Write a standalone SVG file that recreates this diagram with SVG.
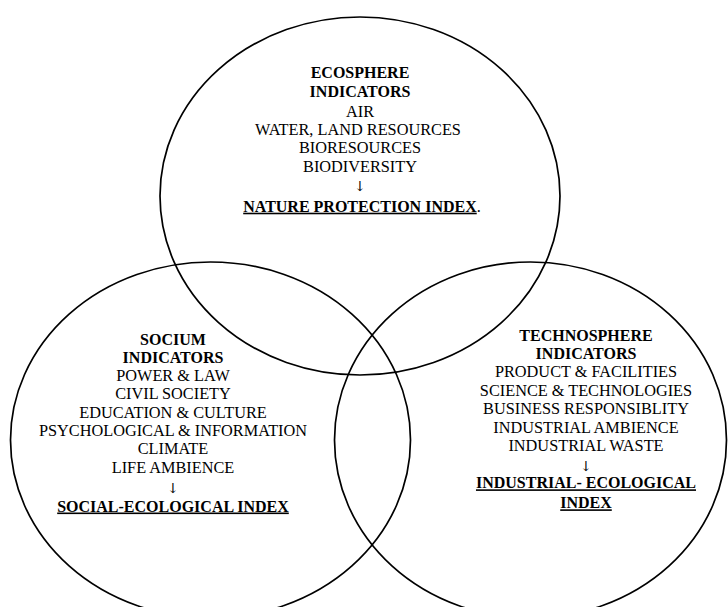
<svg xmlns="http://www.w3.org/2000/svg" width="728" height="607" viewBox="0 0 728 607">
  <style>
    .ring { fill: none; stroke: #000; stroke-width: 1.7; }
    text { font-family: "Liberation Serif", "Times New Roman", "DejaVu Serif", serif; font-size: 16.3px; fill: #000; text-anchor: middle; }
    .b { font-weight: bold; font-size: 16px; }
    .u { text-decoration: underline; }
    .arr { font-family: "DejaVu Serif", "DejaVu Sans", serif; font-size: 14px; fill: #000; }
  </style>
  <rect width="728" height="607" fill="#fff"/>
  <g id="ecosphere">
    <ellipse class="ring" cx="360" cy="196" rx="200" ry="179"/>
    <text class="b" x="360" y="78">ECOSPHERE</text>
    <text class="b" x="360" y="96.7">INDICATORS</text>
    <text x="360" y="116.5">AIR</text>
    <text x="358" y="135">WATER, LAND RESOURCES</text>
    <text x="360" y="153.3">BIORESOURCES</text>
    <text x="360" y="171.7">BIODIVERSITY</text>
    <text class="arr" x="360" y="191">↓</text>
    <text x="362" y="211.7"><tspan class="b u">NATURE PROTECTION INDEX</tspan>.</text>
  </g>
  <g id="socium">
    <ellipse class="ring" cx="210.5" cy="440" rx="200" ry="178"/>
    <text class="b" x="173" y="345">SOCIUM</text>
    <text class="b" x="173" y="363.3">INDICATORS</text>
    <text x="173" y="381">POWER &amp; LAW</text>
    <text x="173" y="399.3">CIVIL SOCIETY</text>
    <text x="173" y="418">EDUCATION &amp; CULTURE</text>
    <text x="173" y="436">PSYCHOLOGICAL &amp; INFORMATION</text>
    <text x="173" y="454">CLIMATE</text>
    <text x="173" y="472.5">LIFE AMBIENCE</text>
    <text class="arr" x="173" y="492.5">↓</text>
    <text class="b u" x="173" y="511.5">SOCIAL-ECOLOGICAL INDEX</text>
  </g>
  <g id="technosphere">
    <ellipse class="ring" cx="530.5" cy="440" rx="196" ry="178"/>
    <text class="b" x="586" y="340.7">TECHNOSPHERE</text>
    <text class="b" x="586" y="358.5">INDICATORS</text>
    <text x="586" y="377.3">PRODUCT &amp; FACILITIES</text>
    <text x="586" y="396">SCIENCE &amp; TECHNOLOGIES</text>
    <text x="586" y="414.3">BUSINESS RESPONSIBLITY</text>
    <text x="586" y="432.7">INDUSTRIAL AMBIENCE</text>
    <text x="586" y="450.7">INDUSTRIAL WASTE</text>
    <text class="arr" x="586" y="470.5">↓</text>
    <text class="b u" x="586" y="488.3">INDUSTRIAL- ECOLOGICAL</text>
    <text class="b u" x="586" y="508.3">INDEX</text>
  </g>
</svg>
